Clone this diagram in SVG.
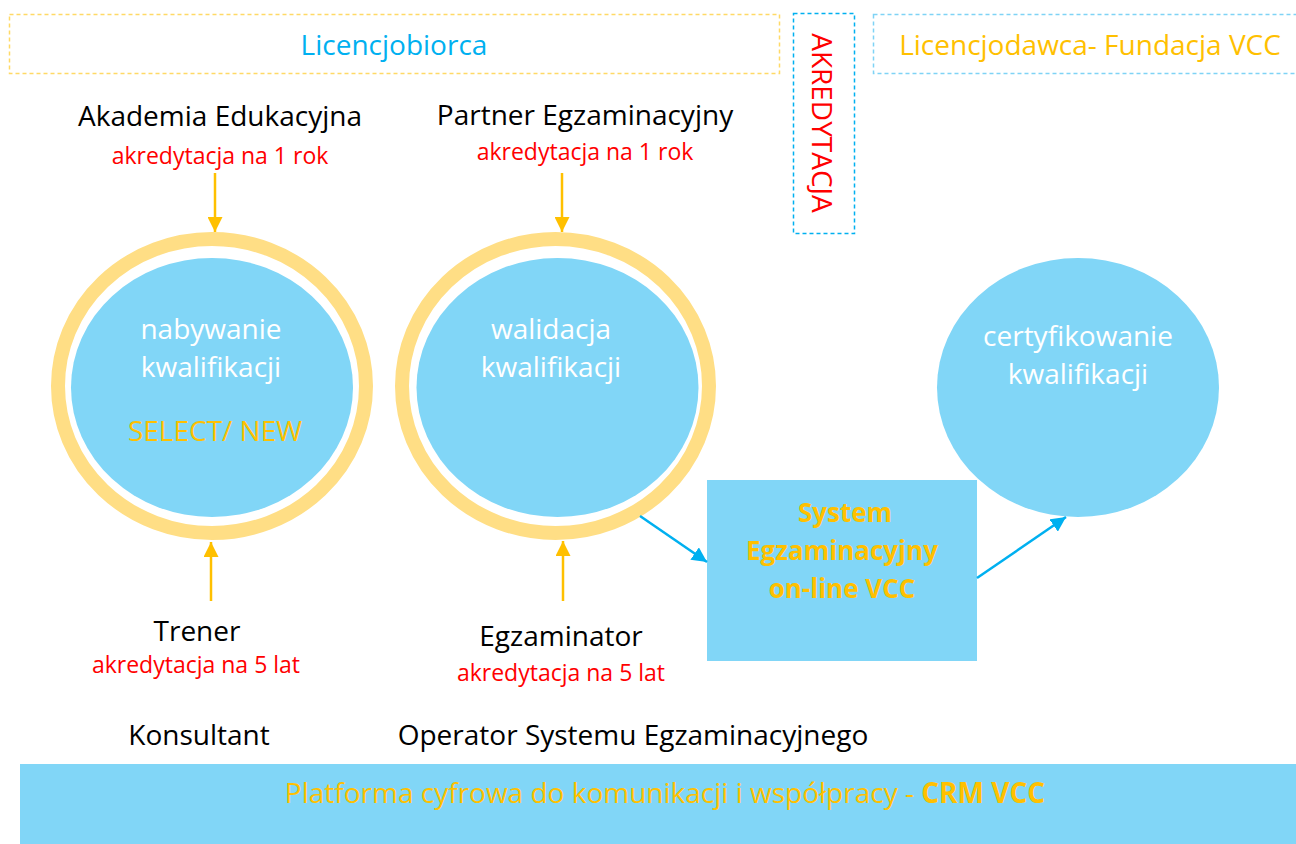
<svg xmlns="http://www.w3.org/2000/svg" width="1296" height="844" viewBox="0 0 1296 844">
<defs>
<style>
text{font-family:"Open Sans","Liberation Sans",sans-serif;text-anchor:middle}
.big{font-size:28px}
.red{font-size:23px;fill:#FF0000}
.blk{fill:#000000}
.wht{fill:#FFFFFF}
.gold{fill:#FFC000}
.blue{fill:#00B0F0}
.bold{font-weight:bold}
.sys{font-size:26px}
.fillb{fill:#81D6F7}
.ring{fill:none;stroke:#FFDE85;stroke-width:14}
.ga{stroke:#FFC000;stroke-width:2.5;fill:none}
.ba{stroke:#00B0F0;stroke-width:2.5;fill:none}
</style>
<marker id="ahg" viewBox="0 0 10 10" refX="10" refY="5" markerWidth="15" markerHeight="15" markerUnits="userSpaceOnUse" orient="auto"><path d="M0,0 L10,5 L0,10 z" fill="#FFC000"/></marker>
<marker id="ahb" viewBox="0 0 10 10" refX="10" refY="5" markerWidth="15" markerHeight="15" markerUnits="userSpaceOnUse" orient="auto"><path d="M0,0 L10,5 L0,10 z" fill="#00B0F0"/></marker>
</defs>
<rect width="1296" height="844" fill="#FFFFFF"/>

<g id="licencjobiorca">
<rect x="9.5" y="14.5" width="770" height="59" fill="none" stroke="#FFD966" stroke-width="1.5" stroke-dasharray="4,3"/>
<text x="394" y="55" class="big blue">Licencjobiorca</text>
</g>
<g id="akredytacja">
<rect x="793.5" y="13.5" width="61" height="220" fill="none" stroke="#00B0F0" stroke-width="1.5" stroke-dasharray="4,3"/>
<text transform="translate(812,123) rotate(90)" class="big" style="fill:#FF0000">AKREDYTACJA</text>
</g>
<g id="licencjodawca">
<rect x="873.5" y="14.5" width="440" height="59" fill="none" stroke="#7FD3F5" stroke-width="1.5" stroke-dasharray="4,3"/>
<text x="1090" y="55" class="big gold">Licencjodawca- Fundacja VCC</text>
</g>

<g id="akademia">
<text x="220" y="126" class="big blk">Akademia Edukacyjna</text>
<text x="220" y="164" class="red">akredytacja na 1 rok</text>
</g>
<g id="partner">
<text x="585" y="125" class="big blk">Partner Egzaminacyjny</text>
<text x="585" y="160" class="red">akredytacja na 1 rok</text>
</g>

<g id="nabywanie">
<ellipse cx="212" cy="386" rx="154" ry="147" class="ring"/>
<ellipse cx="212" cy="387.5" rx="141" ry="129.5" class="fillb"/>
<text x="211" y="339" class="big wht">nabywanie</text>
<text x="211" y="377" class="big wht">kwalifikacji</text>
<text x="215" y="441" class="big gold">SELECT/ NEW</text>
</g>
<g id="walidacja">
<ellipse cx="555.5" cy="386" rx="153.5" ry="147" class="ring"/>
<ellipse cx="557.5" cy="387.5" rx="141" ry="129.5" class="fillb"/>
<text x="551" y="339" class="big wht">walidacja</text>
<text x="551" y="377" class="big wht">kwalifikacji</text>
</g>
<g id="certyfikowanie">
<ellipse cx="1078" cy="387.5" rx="141" ry="129.5" class="fillb"/>
<text x="1078" y="346" class="big wht">certyfikowanie</text>
<text x="1078" y="384" class="big wht">kwalifikacji</text>
</g>
<g id="system">
<rect x="707" y="480" width="270" height="181" class="fillb"/>
<text x="845" y="522" class="sys gold bold">System</text>
<text x="842" y="560" class="sys gold bold">Egzaminacyjny</text>
<text x="842" y="598" class="sys gold bold">on-line VCC</text>
</g>

<g id="trener">
<text x="197" y="641" class="big blk">Trener</text>
<text x="196" y="673" class="red">akredytacja na 5 lat</text>
</g>
<g id="egzaminator">
<text x="561" y="646" class="big blk">Egzaminator</text>
<text x="561" y="681" class="red">akredytacja na 5 lat</text>
</g>
<g id="konsultant">
<text x="199" y="745" class="big blk">Konsultant</text>
</g>
<g id="operator">
<text x="633" y="745" class="big blk">Operator Systemu Egzaminacyjnego</text>
</g>
<g id="platforma">
<rect x="20" y="764" width="1276" height="80" class="fillb"/>
<text x="665" y="803" class="big gold">Platforma cyfrowa do komunikacji i współpracy - <tspan class="bold">CRM VCC</tspan></text>
</g>

<g id="connectors">
<line x1="215" y1="173" x2="215" y2="232" class="ga" marker-end="url(#ahg)"/>
<line x1="562" y1="173" x2="562" y2="232" class="ga" marker-end="url(#ahg)"/>
<line x1="211" y1="601" x2="211" y2="542" class="ga" marker-end="url(#ahg)"/>
<line x1="563" y1="601" x2="563" y2="541" class="ga" marker-end="url(#ahg)"/>
<line x1="640" y1="516" x2="707" y2="562" class="ba" marker-end="url(#ahb)"/>
<line x1="977" y1="578" x2="1066" y2="517" class="ba" marker-end="url(#ahb)"/>
</g>
</svg>
